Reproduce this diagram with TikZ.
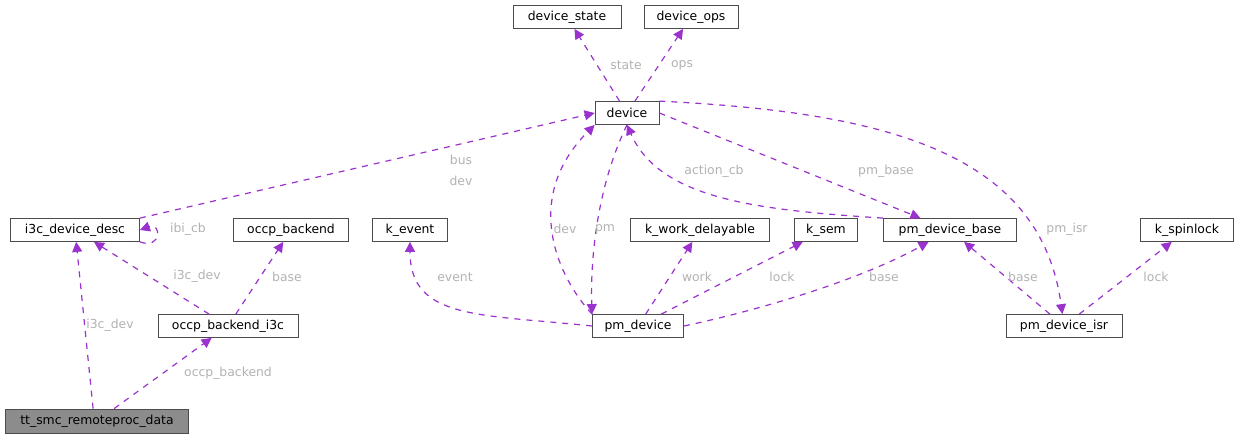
\documentclass[tikz,border=0pt]{standalone}
\usepackage{fontspec}
\setmainfont{DejaVu Sans}
\usetikzlibrary{arrows.meta}
\definecolor{relcol}{HTML}{9A32CD}
\tikzset{
  cls/.style={draw=black!70, fill=white, inner sep=0pt, minimum height=11.5pt, font=\fontsize{6.2}{7}\selectfont},
  rel/.style={draw=relcol, dashed, semithick, -{Triangle[length=5pt,width=5pt]}},
  lbl/.style={text=black!30, font=\fontsize{6.2}{7}\selectfont, inner sep=1pt}
}
\begin{document}
\begin{tikzpicture}[x=0.5pt,y=-0.5pt]
  \useasboundingbox (0,0) rectangle (1237,440);
  % classes
  \node[cls, minimum width=54pt] (dstate) at (567,17) {device\_state};
  \node[cls, minimum width=47pt] (dops) at (691,17) {device\_ops};
  \node[cls, minimum width=32pt] (dev) at (627,113) {device};
  \node[cls, minimum width=64.5pt] (i3c) at (75,230) {i3c\_device\_desc};
  \node[cls, minimum width=57.5pt] (occp) at (291,230) {occp\_backend};
  \node[cls, minimum width=37.5pt] (kevt) at (410,230) {k\_event};
  \node[cls, minimum width=69.5pt] (kwork) at (700,230) {k\_work\_delayable};
  \node[cls, minimum width=31.5pt] (ksem) at (826,230) {k\_sem};
  \node[cls, minimum width=66.5pt] (pmbase) at (950,230) {pm\_device\_base};
  \node[cls, minimum width=46.5pt] (kspin) at (1187,230) {k\_spinlock};
  \node[cls, minimum width=70pt] (occpi3c) at (228,326) {occp\_backend\_i3c};
  \node[cls, minimum width=45.5pt] (pmdev) at (638,326) {pm\_device};
  \node[cls, minimum width=58pt] (pmisr) at (1064,326) {pm\_device\_isr};
  \node[cls, minimum width=91.5pt, fill=black!45, minimum height=12pt] (tt) at (97,421) {tt\_smc\_remoteproc\_data};
  % relations
  \draw[rel] (dev) -- (dstate);
  \draw[rel] (dev) -- (dops);
  \draw[rel] (i3c.north east) -- (dev.west);
  \draw[rel] (i3c.south east) .. controls +(22,8) and +(22,-8) .. (i3c.east);
  \draw[rel] (occpi3c) -- (i3c);
  \draw[rel] (occpi3c) -- (occp);
  \draw[rel] (tt.north west) ++(88,0) -- (i3c);
  \draw[rel] (tt) -- (occpi3c);
  \draw[rel] (pmdev.west) .. controls (480,314) and (410,320) .. (kevt);
  \draw[rel] (pmdev.north west) .. controls (560,280) and (520,200) .. (dev.south west);
  \draw[rel] (dev.south) .. controls (600,180) and (590,250) .. (pmdev.north west);
  \draw[rel] (pmdev) -- (kwork);
  \draw[rel] (pmdev) -- (ksem);
  \draw[rel] (pmdev.east) .. controls (760,310) and (860,280) .. (pmbase);
  \draw[rel] (dev.east) -- (pmbase);
  \draw[rel] (pmbase.north west) .. controls (760,210) and (660,200) .. (dev.south);
  \draw[rel] (dev.north east) .. controls (880,112) and (1040,150) .. (pmisr);
  \draw[rel] (pmisr) -- (pmbase);
  \draw[rel] (pmisr) -- (kspin);
  % labels
  \node[lbl] (lstate) at (626,65) {state};
  \node[lbl] (lops) at (682,65) {ops};
  \node[lbl] (lbus) at (461,160) {bus};
  \node[lbl] (ldev) at (461,181) {dev};
  \node[lbl] (libi) at (188,229) {ibi\_cb};
  \node[lbl] (li3ca) at (197,276) {i3c\_dev};
  \node[lbl] (lbasea) at (287,277) {base};
  \node[lbl] (li3cb) at (110,325) {i3c\_dev};
  \node[lbl] (locc) at (228,373) {occp\_backend};
  \node[lbl] (levt) at (455,277) {event};
  \node[lbl] (ldevb) at (565,229) {dev};
  \node[lbl] (lpm) at (605,229) {pm};
  \node[lbl] (lwork) at (697,277) {work};
  \node[lbl] (llock) at (782,277) {lock};
  \node[lbl] (lbaseb) at (884,277) {base};
  \node[lbl] (lpmb) at (886,171) {pm\_base};
  \node[lbl] (lact) at (714,171) {action\_cb};
  \node[lbl] (lisr) at (1067,229) {pm\_isr};
  \node[lbl] (lbasec) at (1023,277) {base};
  \node[lbl] (llockb) at (1156,277) {lock};
\end{tikzpicture}
\end{document}
